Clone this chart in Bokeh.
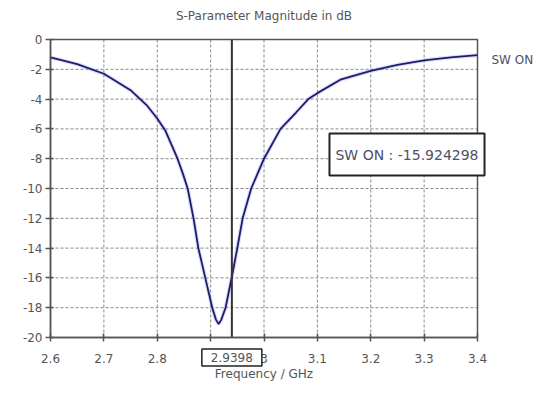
from bokeh.plotting import figure
from bokeh.models import Range1d, FixedTicker, Label, LinearAxis
from bokeh.embed import file_html
from bokeh.resources import INLINE

# Data (frequency in GHz, |S11| in dB)
freq = [2.60, 2.65, 2.70, 2.75, 2.78, 2.80, 2.815, 2.826, 2.838, 2.848, 2.857,
        2.868, 2.877, 2.890, 2.903, 2.910, 2.915, 2.920, 2.928, 2.9398, 2.950,
        2.960, 2.976, 2.988, 3.000, 3.031, 3.06, 3.083, 3.10, 3.143,
        3.20, 3.25, 3.30, 3.35, 3.40]
s_db = [-1.2, -1.65, -2.3, -3.4, -4.4, -5.3, -6.1, -7.0, -8.0, -9.0, -10.0,
        -12.0, -14.0, -16.0, -18.0, -18.8, -19.1, -18.8, -18.0, -15.924298, -14.0,
        -12.0, -10.0, -9.0, -8.0, -6.0, -4.9, -4.0, -3.6, -2.7,
        -2.1, -1.7, -1.4, -1.2, -1.05]

x_ticks = [2.6, 2.7, 2.8, 2.9, 3.0, 3.1, 3.2, 3.3, 3.4]
x_tick_labels = ["2.6", "2.7", "2.8", "2.9", "3", "3.1", "3.2", "3.3", "3.4"]
y_ticks = [-20, -18, -16, -14, -12, -10, -8, -6, -4, -2, 0]
y_tick_labels = ["-20", "-18", "-16", "-14", "-12", "-10", "-8", "-6", "-4", "-2", "0"]

marker_freq = 2.9398
marker_value = -15.924298
series_name = "SW ON"
title_text = "S-Parameter Magnitude in dB"
x_title = "Frequency / GHz"

# ---- layout (pixels) ----
W, H = 537, 381
PL, PR, PT, PB = 50, 477, 39, 337          # plot-area box inside the canvas
FONT = "DejaVu Sans"
TXT = "#555555"
BLUE_TXT = "#50506a"
AXC = "#555555"

X0, X1 = x_ticks[0], x_ticks[-1]
Y0, Y1 = y_ticks[0], y_ticks[-1]
xs = (X1 - X0) / (PR - PL)
ys = (Y1 - Y0) / (PB - PT)


def px_x(px):
    return X0 + (px - PL) * xs


def px_y(py):
    return Y0 + (PB - py) * ys


# the frame covers the whole canvas so that text outside the plot box is not clipped
p = figure(width=W, height=H, output_backend="svg", toolbar_location=None,
           x_range=Range1d(px_x(0), px_x(W)), y_range=Range1d(px_y(H), px_y(0)),
           x_axis_location=None, y_axis_location=None,
           min_border=0, min_border_left=0, min_border_right=0,
           min_border_top=0, min_border_bottom=0)
p.background_fill_color = "white"
p.border_fill_color = "white"
p.outline_line_color = None
p.grid.visible = False

# grid lines (dashed), bounded to the plot box
p.segment(x0=x_ticks[1:-1], y0=[Y0] * (len(x_ticks) - 2),
          x1=x_ticks[1:-1], y1=[Y1] * (len(x_ticks) - 2),
          line_color="#888888", line_dash="3 2", line_width=1)
p.segment(x0=[X0] * (len(y_ticks) - 2), y0=y_ticks[1:-1],
          x1=[X1] * (len(y_ticks) - 2), y1=y_ticks[1:-1],
          line_color="#888888", line_dash="3 2", line_width=1)

# plot box outline
p.quad(left=[X0], right=[X1], bottom=[Y0], top=[Y1], fill_color=None,
       line_color=AXC, line_width=1.5)

# axes pinned at the plot-box edges
xaxis = LinearAxis(fixed_location=Y0, bounds=(X0, X1),
                   ticker=FixedTicker(ticks=x_ticks),
                   major_label_overrides={t: l for t, l in zip(x_ticks, x_tick_labels)},
                   axis_label=x_title)
yaxis = LinearAxis(fixed_location=X0, bounds=(Y0, Y1),
                   ticker=FixedTicker(ticks=y_ticks),
                   major_label_overrides={t: l for t, l in zip(y_ticks, y_tick_labels)})
for ax in (xaxis, yaxis):
    ax.axis_line_color = AXC
    ax.axis_line_width = 1.5
    ax.major_tick_line_color = AXC
    ax.major_tick_line_width = 1.5
    ax.minor_tick_line_color = None
    ax.major_label_text_font = FONT
    ax.major_label_text_font_size = "12px"
    ax.major_label_text_color = TXT
    ax.axis_label_text_font = FONT
    ax.axis_label_text_font_size = "12px"
    ax.axis_label_text_font_style = "normal"
    ax.axis_label_text_color = TXT
xaxis.major_tick_in = 4
xaxis.major_tick_out = 4
xaxis.major_label_standoff = 12
xaxis.axis_label_standoff = 1
yaxis.major_tick_in = 3
yaxis.major_tick_out = 5
yaxis.major_label_standoff = 3
p.add_layout(xaxis, "below")
p.add_layout(yaxis, "left")

# curve with soft halo
p.line(freq, s_db, line_color="#8888ff", line_width=4, line_alpha=0.3)
p.line(freq, s_db, line_color="#1e1e66", line_width=1.8)

# marker line
p.line([marker_freq, marker_freq], [Y0, Y1], line_color="#333333", line_width=2)

# marker readout
p.add_layout(Label(x=px_x(406.5), y=px_y(154), text=f"{series_name} : {marker_value:.6f}",
                   text_align="center", text_baseline="middle",
                   text_font=FONT, text_font_size="14px", text_color=BLUE_TXT,
                   background_fill_color="white", border_line_color="#222222",
                   border_line_width=2, padding=dict(x=6, y=13)))

# marker frequency box on the axis
p.add_layout(Label(x=marker_freq, y=px_y(357), text=f"{marker_freq:.4f}",
                   text_align="center", text_baseline="middle",
                   text_font=FONT, text_font_size="12px", text_color=TXT,
                   background_fill_color="white", border_line_color="#222222",
                   border_line_width=1.5, padding=dict(x=9, y=4)))

# title
p.add_layout(Label(x=(X0 + X1) / 2, y=px_y(15), text=title_text,
                   text_align="center", text_baseline="middle",
                   text_font=FONT, text_font_size="12px", text_color=TXT))

# series name at the right
p.add_layout(Label(x=px_x(491), y=px_y(59.5), text=series_name,
                   text_align="left", text_baseline="middle",
                   text_font=FONT, text_font_size="12px", text_color=BLUE_TXT))

open("out.html", "w").write(file_html(p, INLINE))
